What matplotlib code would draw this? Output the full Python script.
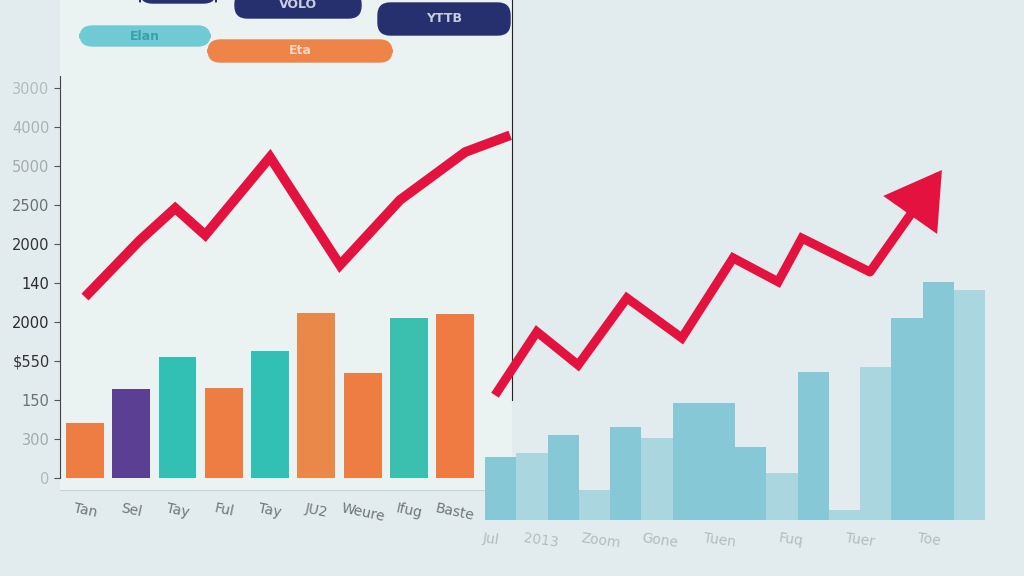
import matplotlib
matplotlib.use("Agg")
import matplotlib.pyplot as plt
from matplotlib.patches import FancyBboxPatch

# left panel data
left_labels = ["Tan", "Sel", "Tay", "Ful", "Tay", "JU2", "Weure", "Ifug", "Baste"]
left_bars = [1.41, 2.28, 3.10, 2.31, 3.26, 4.23, 2.69, 4.10, 4.21]
left_colors = ["#ee7d44", "#5b3f93", "#31c0b3", "#ee7d44", "#31c0b3",
               "#e98848", "#ee7d44", "#3bbfae", "#ef7b43"]
left_line_x = [0.0, 1.19, 1.95, 2.6, 4.0, 5.51, 6.81, 8.22, 9.19]
left_line_y = [4.64, 6.10, 6.92, 6.23, 8.23, 5.46, 7.13, 8.36, 8.79]
y_ticklabels = ["0", "300", "150", "$550", "2000", "140",
                "2000", "2500", "5000", "4000", "3000"]
y_tickcolors = ["#b0b8bb", "#a3abae", "#6b7275", "#333333", "#2b2b2b", "#2b2b2b",
                "#333333", "#6b7275", "#a3abae", "#aab2b5", "#b3bbbe"]

# right panel data
right_bars = [1.21, 1.29, 1.63, 0.58, 1.79, 1.58, 2.25, 2.25,
              1.40, 0.90, 2.85, 0.19, 2.94, 3.88, 4.58, 4.42]
right_light = [False, True, False, True, False, True, False, False,
               False, True, False, True, True, False, False, True]
right_line_x = [-0.18, 1.16, 2.48, 4.04, 5.80, 7.44, 8.88, 9.64, 11.82]
right_line_y = [2.40, 3.62, 2.98, 4.27, 3.50, 5.04, 4.58, 5.42, 4.77]
arrow_tip = (14.12, 6.73)
right_ticks = [-0.3, 1.3, 3.2, 5.1, 7.0, 9.3, 11.5, 13.7]
right_ticklabels = ["Jul", "2013", "Zoom", "Gone", "Tuen", "Fuq", "Tuer", "Toe"]

RED = "#e3123f"
W, H = 1024, 576

fig = plt.figure(figsize=(10.24, 5.76), dpi=100, facecolor="#e2ebed")

# left panel
ax = fig.add_axes([60 / W, (H - 490) / H, 452 / W, 490 / H])
ax.set_facecolor("#eaf2f2")
x = list(range(len(left_bars)))
ax.bar(x, left_bars, width=0.82, color=left_colors, zorder=2)
ax.plot(left_line_x, left_line_y, color=RED, lw=7, solid_joinstyle="miter",
        solid_capstyle="butt", zorder=3)
ax.set_xlim(-0.54, 9.23)
ax.set_ylim(-0.31, 12.26)
ax.set_yticks(range(11))
ax.set_yticklabels(y_ticklabels)
for t, c in zip(ax.get_yticklabels(), y_tickcolors):
    t.set_color(c)
ax.set_xticks(x)
ax.set_xticklabels(left_labels, rotation=-12, color="#6f7678", fontsize=10)
ax.tick_params(axis="y", labelsize=10.5, length=4, color="#555555")
ax.tick_params(axis="x", length=0, pad=8)
ax.spines["top"].set_visible(False)
ax.spines["bottom"].set_color("#c9d2d4")
ax.spines["left"].set_color("#444444")
ax.spines["left"].set_bounds(0, 10.3)
ax.spines["right"].set_color("#222222")
ax.spines["right"].set_bounds(2.0, 12.26)

# right panel
ax2 = fig.add_axes([485 / W, (H - 520) / H, 505 / W, 520 / H])
ax2.patch.set_alpha(0)
xr = list(range(len(right_bars)))
rcol = ["#a9d6df" if lt else "#86c8d5" for lt in right_light]
ax2.bar(xr, right_bars, width=1.0, color=rcol, zorder=2)
ax2.plot(right_line_x, right_line_y, color=RED, lw=6.5, solid_joinstyle="miter",
         solid_capstyle="butt", zorder=3)
ax2.annotate("", xy=arrow_tip, xytext=(right_line_x[-1], right_line_y[-1]),
             arrowprops=dict(arrowstyle="-|>,head_length=1.5,head_width=0.9",
                             mutation_scale=20, lw=6.5, color=RED,
                             shrinkA=0, shrinkB=0, joinstyle="miter"),
             zorder=3)
ax2.set_xlim(-0.5, 15.66)
ax2.set_ylim(0, 10)
ax2.set_yticks([])
ax2.set_xticks(right_ticks)
ax2.set_xticklabels(right_ticklabels, rotation=-8, color="#b3bcbf", fontsize=10)
ax2.tick_params(axis="x", length=0, pad=8)
for s in ax2.spines.values():
    s.set_visible(False)

# header pills
def pill(x0, y0, w, h, color, text, tcolor):
    p = FancyBboxPatch((x0 / W, 1 - (y0 + h) / H), w / W, h / H,
                       boxstyle="round,pad=0,rounding_size=0.012",
                       transform=fig.transFigure, color=color,
                       mutation_aspect=W / H)
    fig.patches.append(p)
    fig.text((x0 + w / 2) / W, 1 - (y0 + h / 2) / H, text, color=tcolor,
             ha="center", va="center", fontsize=9, fontweight="bold")

pill(80, 26, 130, 20, "#6fcad3", "Elan", "#3a9fa8")
pill(208, 40, 184, 22, "#ee8448", "Eta", "#f9d9c4")
pill(140, -10, 76, 13, "#27306e", "", "#ffffff")
pill(235, -8, 126, 26, "#27306e", "VOLO", "#c9cde0")
pill(378, 3, 132, 32, "#27306e", "YTTB", "#c9cde0")

fig.savefig("out.png", dpi=100, facecolor=fig.get_facecolor())
